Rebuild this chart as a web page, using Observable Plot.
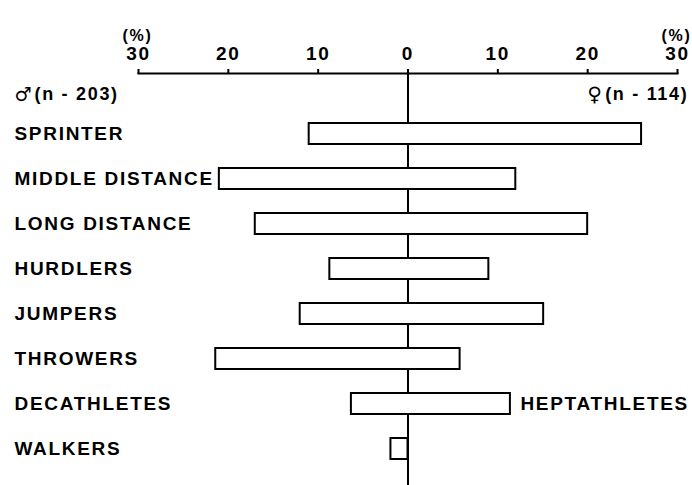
<!DOCTYPE html>
<html>
<head>
<meta charset="utf-8">
<script src="https://cdn.jsdelivr.net/npm/d3@7"></script>
<script src="https://cdn.jsdelivr.net/npm/@observablehq/plot@0.6"></script>
<style>
  html, body { margin: 0; padding: 0; background: #fff; }
</style>
</head>
<body>
<div id="chart"></div>
<script>
const categories = ["SPRINTER", "MIDDLE DISTANCE", "LONG DISTANCE", "HURDLERS", "JUMPERS", "THROWERS", "DECATHLETES", "WALKERS"];
const male = [11, 21, 17, 8.7, 12, 21.4, 6.3, 1.9];      // % of men (n = 203)
const female = [26, 12, 20, 9, 15.1, 5.8, 11.4, 0];       // % of women (n = 114)
const tickValues = [-30, -20, -10, 0, 10, 20, 30];
const maleSymbol = "♂";
const femaleSymbol = "♀";
const maleCount = "(n - 203)";
const femaleCount = "(n - 114)";
const femaleAltLabel = "HEPTATHLETES";
const unitLabel = "(%)";

const rows = categories.map((c, i) => ({cat: c, m: male[i], f: female[i]}));

const chart = Plot.plot({
  width: 692,
  height: 485,
  marginTop: 73,
  marginBottom: 0,
  marginLeft: 138,
  marginRight: 15,
  style: {
    fontFamily: "'Liberation Sans', Arial, sans-serif",
    fontSize: "19px",
    fontWeight: "bold",
    letterSpacing: "1.7px",
    background: "#fff",
    color: "#000"
  },
  x: {domain: [-30, 30]},
  y: {type: "band", domain: categories, paddingInner: 0.536, paddingOuter: 0.8155, align: 0.656, axis: null},
  marks: [
    Plot.ruleX([0], {stroke: "#000", strokeWidth: 2}),
    Plot.rectX(rows, {x1: d => -d.m, x2: d => d.f, y: "cat", fill: "#fff", stroke: "#000", strokeWidth: 2}),
    Plot.frame({anchor: "top", stroke: "#000", strokeWidth: 2}),
    Plot.axisX({anchor: "top", ticks: tickValues, tickFormat: d => Math.abs(d), tickSize: 5, tickPadding: 9, label: null, strokeWidth: 2, fontSize: 19}),
    Plot.text(rows, {y: "cat", text: "cat", frameAnchor: "left", dx: -124, textAnchor: "start", fill: "#000"}),
    Plot.text([femaleAltLabel], {x: () => female[6], y: () => categories[6], text: d => d, dx: 10, textAnchor: "start", fill: "#000"}),
    Plot.text([maleSymbol], {frameAnchor: "top-left", text: d => d, dx: -124, dy: 21, textAnchor: "start", lineAnchor: "middle", fill: "#000", fontSize: 19, letterSpacing: "0px", fontFamily: "'DejaVu Sans', sans-serif", fontWeight: "normal"}),
    Plot.text([maleCount], {frameAnchor: "top-left", text: d => d, dx: -104, dy: 21, textAnchor: "start", lineAnchor: "middle", fill: "#000", fontSize: 18}),
    Plot.text([femaleSymbol], {frameAnchor: "top-right", text: d => d, dx: -74, dy: 21, textAnchor: "end", lineAnchor: "middle", fill: "#000", fontSize: 20, letterSpacing: "0px", fontFamily: "'DejaVu Sans', sans-serif", fontWeight: "normal"}),
    Plot.text([femaleCount], {frameAnchor: "top-right", text: d => d, dx: 11, dy: 21, textAnchor: "end", lineAnchor: "middle", fill: "#000", fontSize: 18}),
    Plot.text([-30, 30], {x: d => d, text: () => unitLabel, frameAnchor: "top", dx: -1, dy: -38, lineAnchor: "middle", fill: "#000", fontSize: 16, letterSpacing: "0.5px"})
  ]
});
document.getElementById("chart").appendChild(chart);
</script>
</body>
</html>
